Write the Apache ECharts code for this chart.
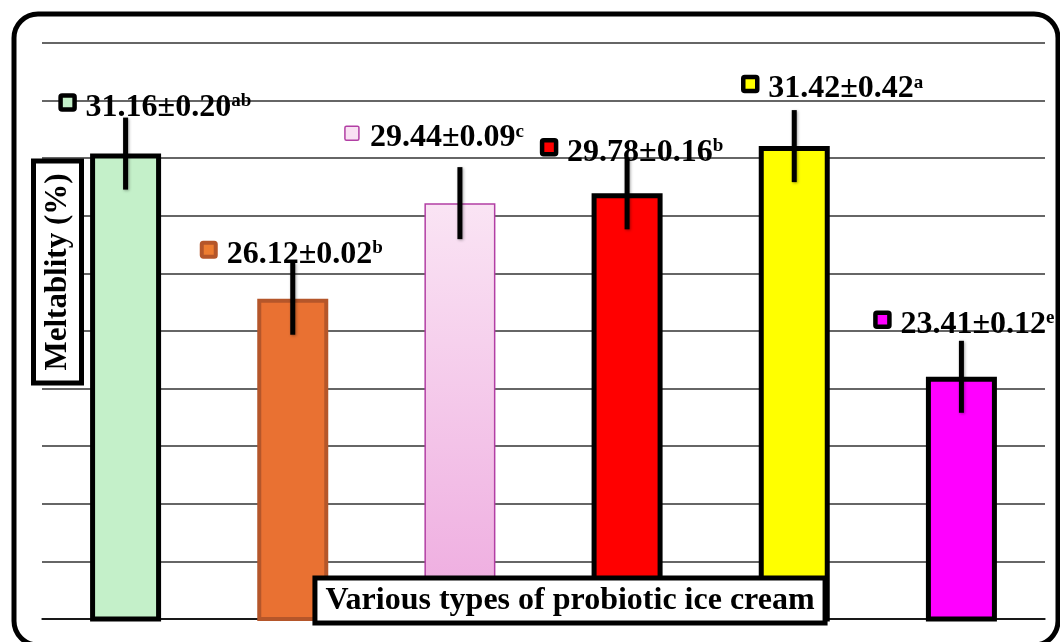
<!DOCTYPE html>
<html><head><meta charset="utf-8">
<script src="https://cdn.jsdelivr.net/npm/echarts@6/dist/echarts.min.js"></script>
<style>html,body{margin:0;padding:0;background:#fff}#c{width:1060px;height:642px}</style>
</head><body><div id="c"></div>
<script>
// ---- data ----
const categories = ['IC1', 'IC2', 'IC3', 'IC4', 'IC5', 'IC6'];
const meltability = [31.16, 26.12, 29.44, 29.78, 31.42, 23.41];
const stdDev = ['0.20', '0.02', '0.09', '0.16', '0.42', '0.12'];
const letters = ['ab', 'b', 'c', 'b', 'a', 'e'];
const errorHalf = [1.25, 1.25, 1.25, 1.25, 1.25, 1.25];
const yMin = 15, yMax = 35, yStep = 2;
const yTitle = 'Meltablity (%)';
const xTitle = 'Various types of probiotic ice cream';

// ---- layout / styles ----
const labelDx = [-67, -93, -117, -87, -53, -88];
const labelDy = [-36, -34, -55, -31, -47, -42];
const pinkGrad = new echarts.graphic.LinearGradient(0, 0, 0, 1, [
  {offset: 0, color: '#fae4f4'}, {offset: 1, color: '#eeaadf'}]);
const barFill = ['#c4f0c9', '#e97132', pinkGrad, '#ff0000', '#ffff00', '#ff00ff'];
const barStroke = ['#000', '#b5562a', '#b23fa4', '#000', '#000', '#000'];
const barStrokeW = [5, 4, 1.5, 5, 5, 5];
const markFill = ['#c4f0c9', '#ed7d31', '#f9e1f3', '#ff0000', '#ffff00', '#ff00ff'];
const markStroke = ['#000', '#b5562a', '#b23fa4', '#000', '#000', '#000'];
const markStrokeW = [4.5, 4, 1.5, 4.5, 4.5, 4.5];
const FF = '"Liberation Serif","Times New Roman",serif';

const chart = echarts.init(document.getElementById('c'), null, {renderer: 'canvas'});

const option = {
  animation: false,
  backgroundColor: '#fff',
  grid: {left: 42, right: 15, top: 43, bottom: 23, containLabel: false},
  xAxis: {
    type: 'category', data: categories,
    axisLine: {show: true, lineStyle: {color: '#000', width: 1.5}},
    axisTick: {show: false}, axisLabel: {show: false}, splitLine: {show: false}
  },
  yAxis: [
    { type: 'value', min: 0, max: yMax - yMin, interval: yStep,
      axisLine: {show: false}, axisTick: {show: false}, axisLabel: {show: false},
      splitLine: {show: true, lineStyle: {color: '#333', width: 1.5}} },
    { type: 'value', min: yMin, max: yMax, show: false, splitLine: {show: false} }
  ],
  graphic: [
    { type: 'rect', z: 0, shape: {x: 14, y: 14, width: 1044, height: 631, r: 24},
      style: {fill: 'none', stroke: '#000', lineWidth: 5} },
    { type: 'text', z: 100, x: 57.5, y: 272, rotation: Math.PI / 2,
      style: {text: yTitle, font: 'bold 31px ' + FF, fill: '#000', align: 'center', verticalAlign: 'middle',
        backgroundColor: '#fff', borderColor: '#000', borderWidth: 5, padding: [6, 10]} },
    { type: 'text', z: 100, x: 570, y: 600.5,
      style: {text: xTitle, font: 'bold 32px ' + FF, fill: '#000', align: 'center', verticalAlign: 'middle',
        backgroundColor: '#fff', borderColor: '#000', borderWidth: 5, padding: [4, 8]} }
  ],
  series: [
    { type: 'bar', yAxisIndex: 1, barWidth: 71, z: 2,
      data: meltability.map((v, i) => ({value: v, itemStyle: {
        color: barFill[i], borderColor: barStroke[i], borderWidth: barStrokeW[i]}})) },
    { type: 'custom', yAxisIndex: 1, z: 5,
      encode: {x: 0, y: [1, 2]},
      data: meltability.map((v, i) => [i, v - errorHalf[i], v + errorHalf[i]]),
      renderItem: function (params, api) {
        const lo = api.coord([api.value(0), api.value(1)]);
        const hi = api.coord([api.value(0), api.value(2)]);
        return { type: 'line', shape: {x1: lo[0], y1: lo[1], x2: hi[0], y2: hi[1]},
          style: {stroke: '#000', lineWidth: 5, shadowBlur: 3, shadowColor: 'rgba(0,0,0,0.35)', shadowOffsetX: 1, shadowOffsetY: 1} };
      } },
    { type: 'custom', yAxisIndex: 1, z: 10,
      encode: {x: 0, y: 1},
      data: meltability.map((v, i) => [i, v]),
      renderItem: function (params, api) {
        const i = params.dataIndex;
        const p = api.coord([api.value(0), api.value(1)]);
        const x0 = p[0] + labelDx[i];
        const base = p[1] + labelDy[i];
        return { type: 'group', children: [
          { type: 'rect', shape: {x: x0 + 2, y: base - 15 - 7, width: 14, height: 14, r: 1.5},
            style: {fill: markFill[i], stroke: markStroke[i], lineWidth: markStrokeW[i]} },
          { type: 'text', style: {
              x: x0 + 27, y: base - 10, align: 'left', verticalAlign: 'middle',
              text: '{v|' + meltability[i].toFixed(2) + '±' + stdDev[i] + '}{s|' + letters[i] + '}',
              rich: {
                v: {fontSize: 32, fontWeight: 'bold', fontFamily: FF, fill: '#000', lineHeight: 32},
                s: {fontSize: 19, fontWeight: 'bold', fontFamily: FF, fill: '#000', lineHeight: 19, verticalAlign: 'top'}
              } } }
        ]};
      } }
  ]
};
chart.setOption(option);
</script></body></html>
